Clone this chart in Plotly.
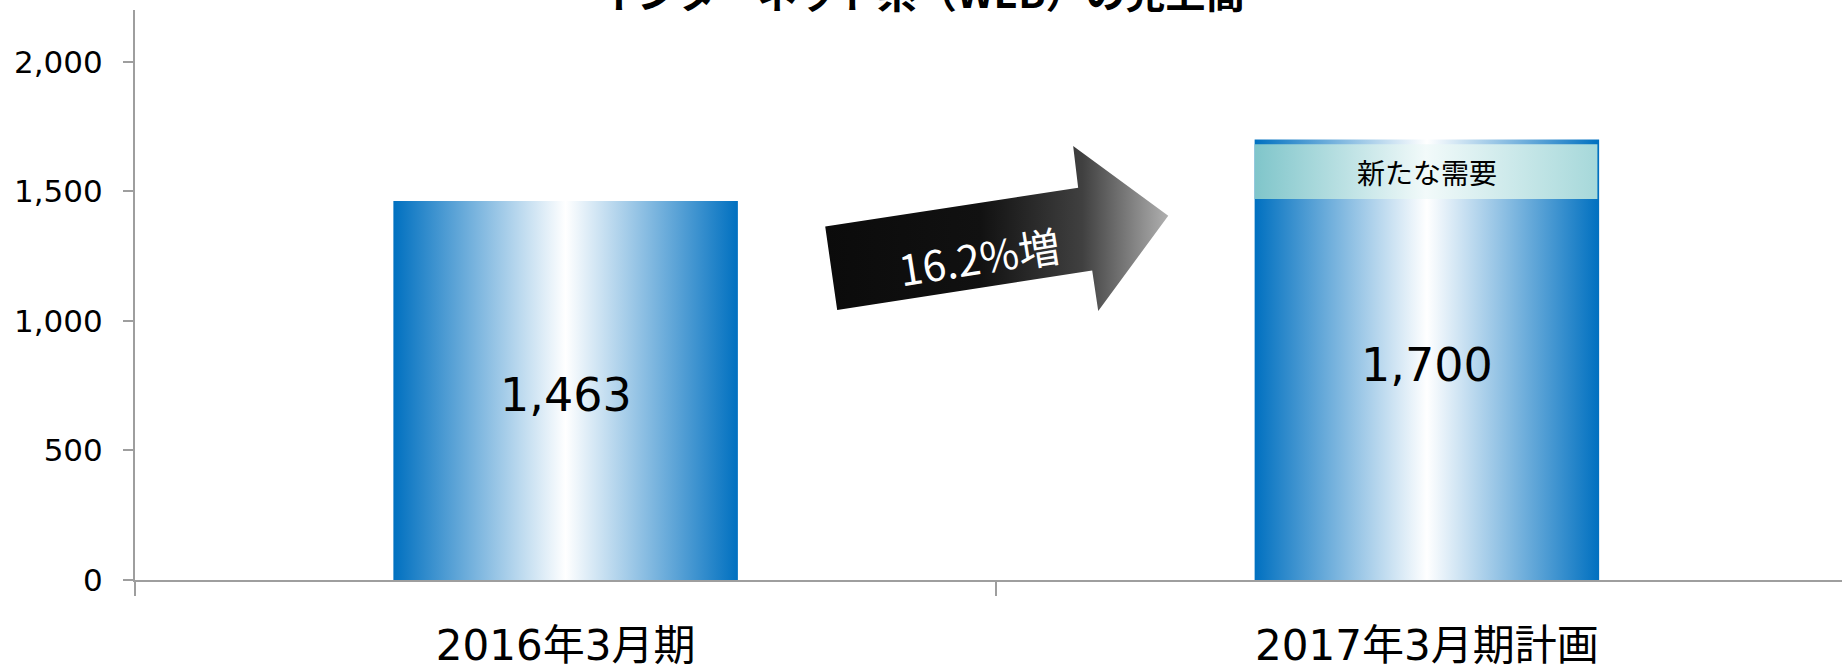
import plotly.graph_objects as go

# Sales figures (million yen)
categories = ["2016年3月期", "2017年3月期計画"]
values = [1463, 1700]
growth_label = "16.2%増"
new_demand_label = "新たな需要"
title_text = "インターネット系（WEB）の売上高"
y_ticks = [0, 500, 1000, 1500, 2000]

BAR_W = 0.40
BLUE_SCALE = [[0, "#0070C0"], [0.5, "#FFFFFF"], [1, "#0070C0"]]
TEAL_SCALE = [[0, "#7FC5CA"], [0.5, "#F2FAFA"], [1, "#A6D8DA"]]
LATIN = "DejaVu Sans, Noto Sans CJK JP"
CJK = "Noto Sans CJK JP"
AXIS_GREY = "#9E9E9E"

fig = go.Figure()

# gradient-filled bars
for i, v in enumerate(values):
    fig.add_trace(go.Scatter(
        x=[i - BAR_W / 2, i + BAR_W / 2, i + BAR_W / 2, i - BAR_W / 2, i - BAR_W / 2],
        y=[0, 0, v, v, 0],
        mode="none", fill="toself",
        fillgradient=dict(type="horizontal", colorscale=BLUE_SCALE),
        hoverinfo="skip", showlegend=False,
    ))
    fig.add_annotation(x=i, y=v / 2, yshift=-5, text=f"{v:,}", showarrow=False,
                       font=dict(family=LATIN, size=46, color="black"))

# increment band on the plan bar
lo, hi = values[0] + 8, values[1] - 18
fig.add_trace(go.Scatter(
    x=[1 - BAR_W / 2, 1 + BAR_W / 2 - 0.002, 1 + BAR_W / 2 - 0.002, 1 - BAR_W / 2, 1 - BAR_W / 2],
    y=[lo, lo, hi, hi, lo],
    mode="none", fill="toself",
    fillgradient=dict(type="horizontal", colorscale=TEAL_SCALE),
    hoverinfo="skip", showlegend=False,
))
fig.add_annotation(x=1, y=(lo + hi) / 2, text=new_demand_label, showarrow=False,
                   font=dict(family=CJK, size=28, color="black"))

# growth arrow between the bars
arrow_x = [0.3014, 0.5951, 0.5893, 0.6997, 0.6184, 0.6114, 0.3153, 0.3014]
arrow_y = [1364, 1514, 1675, 1406, 1038, 1195, 1042, 1364]
fig.add_trace(go.Scatter(
    x=arrow_x, y=arrow_y, mode="none", fill="toself",
    fillgradient=dict(type="horizontal",
                      colorscale=[[0, "#0b0b0b"], [0.45, "#111111"], [0.75, "#404040"], [1, "#b0b0b0"]]),
    hoverinfo="skip", showlegend=False,
))
fig.add_annotation(x=0.480, y=1252, text=growth_label, showarrow=False, textangle=-9,
                   font=dict(family=CJK, size=42, color="white"))

# title, partly above the visible area
fig.add_annotation(xref="paper", yref="paper", x=0.4605, y=1, yanchor="middle", yshift=19,
                   text=f"<b>{title_text}</b>", showarrow=False,
                   font=dict(family=CJK, size=40, color="black"))

fig.update_layout(
    width=1842, height=670,
    margin=dict(l=135, r=0, t=10, b=87, pad=0),
    paper_bgcolor="white", plot_bgcolor="white",
    showlegend=False,
)
fig.update_xaxes(
    range=[-0.5, 1.482], tickmode="array", tickvals=list(range(len(categories))),
    ticktext=categories, ticks="", showgrid=False, zeroline=False,
    showline=True, linecolor=AXIS_GREY, linewidth=2,
    tickfont=dict(family=LATIN, size=42, color="black"), ticklabelstandoff=28,
    minor=dict(tickmode="array", tickvals=[-0.5, 0.5, 1.5], ticks="outside",
               ticklen=14, tickwidth=2, tickcolor=AXIS_GREY, showgrid=False),
)
fig.update_yaxes(
    range=[0, 2200], tickmode="array", tickvals=y_ticks,
    ticktext=[f"{t:,}" for t in y_ticks], ticks="outside", ticklen=10,
    tickwidth=2, tickcolor=AXIS_GREY, showgrid=False, zeroline=False,
    showline=True, linecolor=AXIS_GREY, linewidth=2,
    tickfont=dict(family=LATIN, size=31, color="black"), ticklabelstandoff=14,
)

fig.write_html("out.html")
